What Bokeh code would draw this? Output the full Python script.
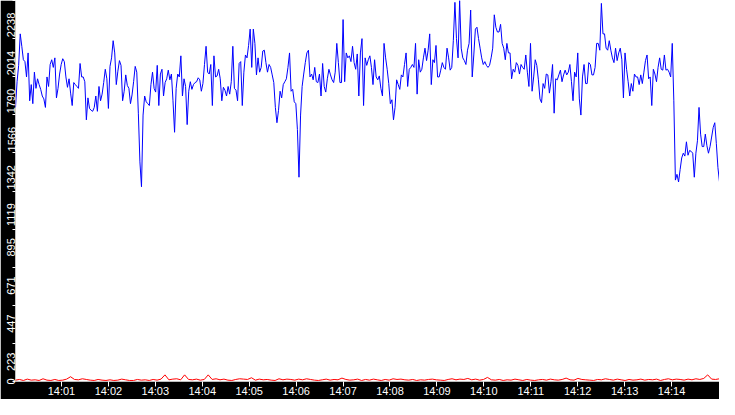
import math
import numpy as np
from bokeh.plotting import figure
from bokeh.models import FixedTicker, Range1d
from bokeh.embed import file_html
from bokeh.resources import INLINE

# ---- data ----
start_sec = 1.25          # seconds after 14:00:00 at the left edge
span_sec = 900.0          # 15 minutes shown

blue_values = [
    1610, 1761, 1857, 2042, 1969, 1890, 1879, 1789, 1930, 1649, 1744, 1632, 1817, 1722, 1778, 1744,
    1716, 1677, 1660, 1610, 1789, 1733, 1862, 1890, 1845, 1901, 1666, 1722, 1806, 1862, 1896, 1879,
    1789, 1728, 1778, 1694, 1621, 1756, 1744, 1733, 1722, 1868, 1789, 1789, 1761, 1537, 1666, 1604,
    1593, 1587, 1610, 1677, 1587, 1733, 1649, 1688, 1756, 1834, 1778, 1604, 1851, 1901, 2002, 1930,
    1744, 1823, 1885, 1857, 1649, 1705, 1801, 1739, 1722, 1632, 1683, 1761, 1851, 1817,
    1576, 1290, 1144, 1565, 1677, 1643, 1632, 1621, 1744, 1817, 1722, 1700, 1857, 1621, 1806, 1834,
    1677, 1756, 1778, 1829, 1772, 1806, 1649, 1464, 1722, 1806, 1789, 1913, 1677, 1778, 1733, 1509,
    1705, 1761, 1716, 1744, 1756, 1761, 1784, 1772, 1705, 1750, 1862, 1969, 1817, 1806, 1862, 1621,
    1913, 1789, 1795, 1834, 1778, 1649, 1728, 1711, 1677, 1733, 1688, 1761, 1969, 1722, 1711, 1649,
    1868, 1879, 1621, 1817, 1918, 1901, 1974, 2070, 1845, 2070,
    1986, 1801, 1901, 1817, 1845, 1941, 1946, 1873, 1817, 1862, 1845, 1801, 1756, 1610, 1520, 1593,
    1705, 1666, 1744, 1761, 1778, 1845, 1930, 1705, 1716, 1643, 1632, 1480, 1200, 1565, 1733, 1806,
    1873, 1930, 1946, 1789, 1806, 1772, 1845, 1761, 1756, 1806, 1677, 1868, 1733, 1700, 1778, 1834,
    1801, 1772, 1756, 1817, 1986, 1873, 1756, 1756, 2126, 1761, 1930, 1901, 1913, 1879, 1969, 1873,
    1834, 1924, 1677, 1930, 2014, 1621, 1901, 1857, 1890, 1913, 1845,
    1744, 1890, 1789, 1772, 1795, 1722, 1677, 1986, 1901, 1834, 1750, 1632, 1655, 1537, 1610, 1772,
    1744, 1716, 1801, 1789, 1862, 1930, 1733, 1834, 1845, 1862, 1845, 1986, 1688, 1890, 1817, 1834,
    1901, 1958, 1885, 1946, 2042, 1744, 1890, 1873, 1974, 1789, 1789, 1829, 1873, 1845, 1834, 1958,
    1901, 1829, 1845, 2002, 2227, 2014, 1901, 2238, 1958, 1901, 1885, 1862, 1946, 1986, 2182, 1789,
    1918, 2070, 2081, 2014, 1958, 1901, 1862, 1879, 1857, 1845, 1857, 1901,
    1958, 2154, 2081, 2053, 2053, 2098, 1986, 1958, 1890, 1986, 1930, 1930, 1778, 1834, 1817, 1873,
    1857, 1806, 1862, 1845, 1834, 1918, 1817, 1733, 1986, 1705, 1789, 1890, 1857, 1772, 1660, 1638,
    1750, 1722, 1806, 1801, 1694, 1761, 1862, 1576, 1778, 1772, 1801, 1829, 1761, 1801, 1829, 1801,
    1817, 1862, 1761, 1649, 1817, 1789, 1930, 1660, 1565, 1789, 1862, 1750, 1750, 1873, 1862, 1801,
    1801, 1845, 1986, 1986, 1946, 2221, 2042, 2042, 1958, 1946, 2002,
    1946, 1901, 1873, 1958, 1885, 1930, 1958, 1890, 1666, 1930, 1834, 1761, 1677, 1750, 1705, 1806,
    1789, 1789, 1744, 1801, 1750, 1817, 1885, 1918, 1778, 1789, 1621, 1834, 1806, 1761, 1845, 1901,
    1834, 1829, 1918, 1829, 1834, 1817, 1789, 1986, 1649, 1183, 1217, 1172, 1245, 1313, 1341, 1324,
    1408, 1329, 1357, 1352, 1341, 1200, 1341, 1414, 1610, 1453, 1380, 1380, 1453, 1385, 1341, 1380,
    1436, 1492, 1520, 1397, 1256, 1172,
]

red_values = [
    8, 12, 6, 14, 8, 10, 6, 16, 8, 6,
    12, 6, 8, 14, 28, 12, 10, 16, 12, 8,
    6, 12, 8, 6, 10, 6, 8, 14, 10, 6,
    6, 12, 8, 10, 6, 12, 8, 14, 39, 10,
    14, 16, 10, 39, 12, 10, 14, 8, 12, 39,
    12, 16, 10, 14, 8, 6, 12, 16, 14, 12,
    22, 8, 14, 10, 12, 8, 6, 16, 10, 14,
    12, 8, 14, 10, 16, 12, 8, 6, 10, 14,
    8, 12, 10, 20, 12, 8, 10, 14, 6, 12,
    8, 14, 10, 6, 12, 8, 16, 12, 14, 10,
    8, 12, 6, 10, 8, 12, 14, 10, 8, 6,
    12, 16, 10, 14, 12, 18, 10, 14, 8, 12,
    24, 10, 8, 12, 6, 10, 8, 14, 10, 6,
    12, 8, 6, 10, 12, 8, 14, 10, 8, 12,
    20, 10, 8, 18, 12, 10, 8, 6, 12, 10,
    16, 12, 8, 14, 10, 6, 12, 8, 10, 14,
    8, 12, 10, 14, 6, 12, 16, 10, 14, 12,
    8, 14, 10, 16, 12, 18, 39, 14, 12, 16,
]

x_tick_seconds = [60, 120, 180, 240, 300, 360, 420, 480, 540, 600, 660, 720, 780, 840]
x_tick_labels = ["14:01", "14:02", "14:03", "14:04", "14:05", "14:06", "14:07", "14:08",
                 "14:09", "14:10", "14:11", "14:12", "14:13", "14:14"]

y_max = 2238
y_tick_values = [0, 223.8, 447.6, 671.4, 895.2, 1119, 1342.8, 1566.6, 1790.4, 2014.2, 2238]
y_tick_labels = ["0", "223", "447", "671", "895", "1119", "1342", "1566", "1790", "2014", "2238"]

# ---- figure ----
W, H = 719, 399
BOTTOM = 17
blue_t = start_sec + np.arange(len(blue_values)) * (span_sec / (len(blue_values) - 1))
red_t = start_sec + np.arange(len(red_values)) * (span_sec / (len(red_values) - 1))

p = figure(width=W, height=H, output_backend="svg", toolbar_location=None,
           x_range=Range1d(start_sec, start_sec + span_sec), y_range=Range1d(0, y_max),
           background_fill_color="white", border_fill_color="black",
           min_border_left=15, min_border_bottom=BOTTOM, min_border_top=0, min_border_right=0)
p.outline_line_color = None
p.xgrid.visible = False
p.ygrid.visible = False

p.line(blue_t, blue_values, line_color="#0000ff", line_width=1)
p.line(red_t, red_values, line_color="#ff0000", line_width=1)

font = "Liberation Sans"
font_px = 11
digit_px = 0.556 * font_px

xa = p.xaxis[0]
xa.ticker = FixedTicker(ticks=x_tick_seconds, minor_ticks=[])
xa.major_label_overrides = dict(zip(x_tick_seconds, x_tick_labels))
xa.axis_line_color = None
xa.major_tick_line_color = "white"
xa.major_tick_out = 5
xa.major_tick_in = 0
xa.major_label_standoff = -2
xa.major_label_text_color = "white"
xa.major_label_text_font = font
xa.major_label_text_font_size = f"{font_px}px"

# y labels read upward and hang below their tick (top of text at the tick)
units_per_px = y_max / (H - BOTTOM)
label_pos = []
for v, s in zip(y_tick_values, y_tick_labels):
    half = len(s) * digit_px / 2 * units_per_px
    label_pos.append(round(max(v - half, half), 3))

ya = p.yaxis[0]
ya.ticker = FixedTicker(ticks=label_pos, minor_ticks=y_tick_values)
ya.major_label_overrides = dict(zip(label_pos, y_tick_labels))
ya.axis_line_color = None
ya.major_tick_line_color = None
ya.major_tick_out = 0
ya.major_tick_in = 0
ya.minor_tick_line_color = "white"
ya.minor_tick_out = 3
ya.minor_tick_in = 0
ya.major_label_standoff = 1
ya.major_label_orientation = math.pi / 2
ya.major_label_text_color = "white"
ya.major_label_text_font = font
ya.major_label_text_font_size = f"{font_px}px"

open("out.html", "w").write(file_html(p, INLINE))
